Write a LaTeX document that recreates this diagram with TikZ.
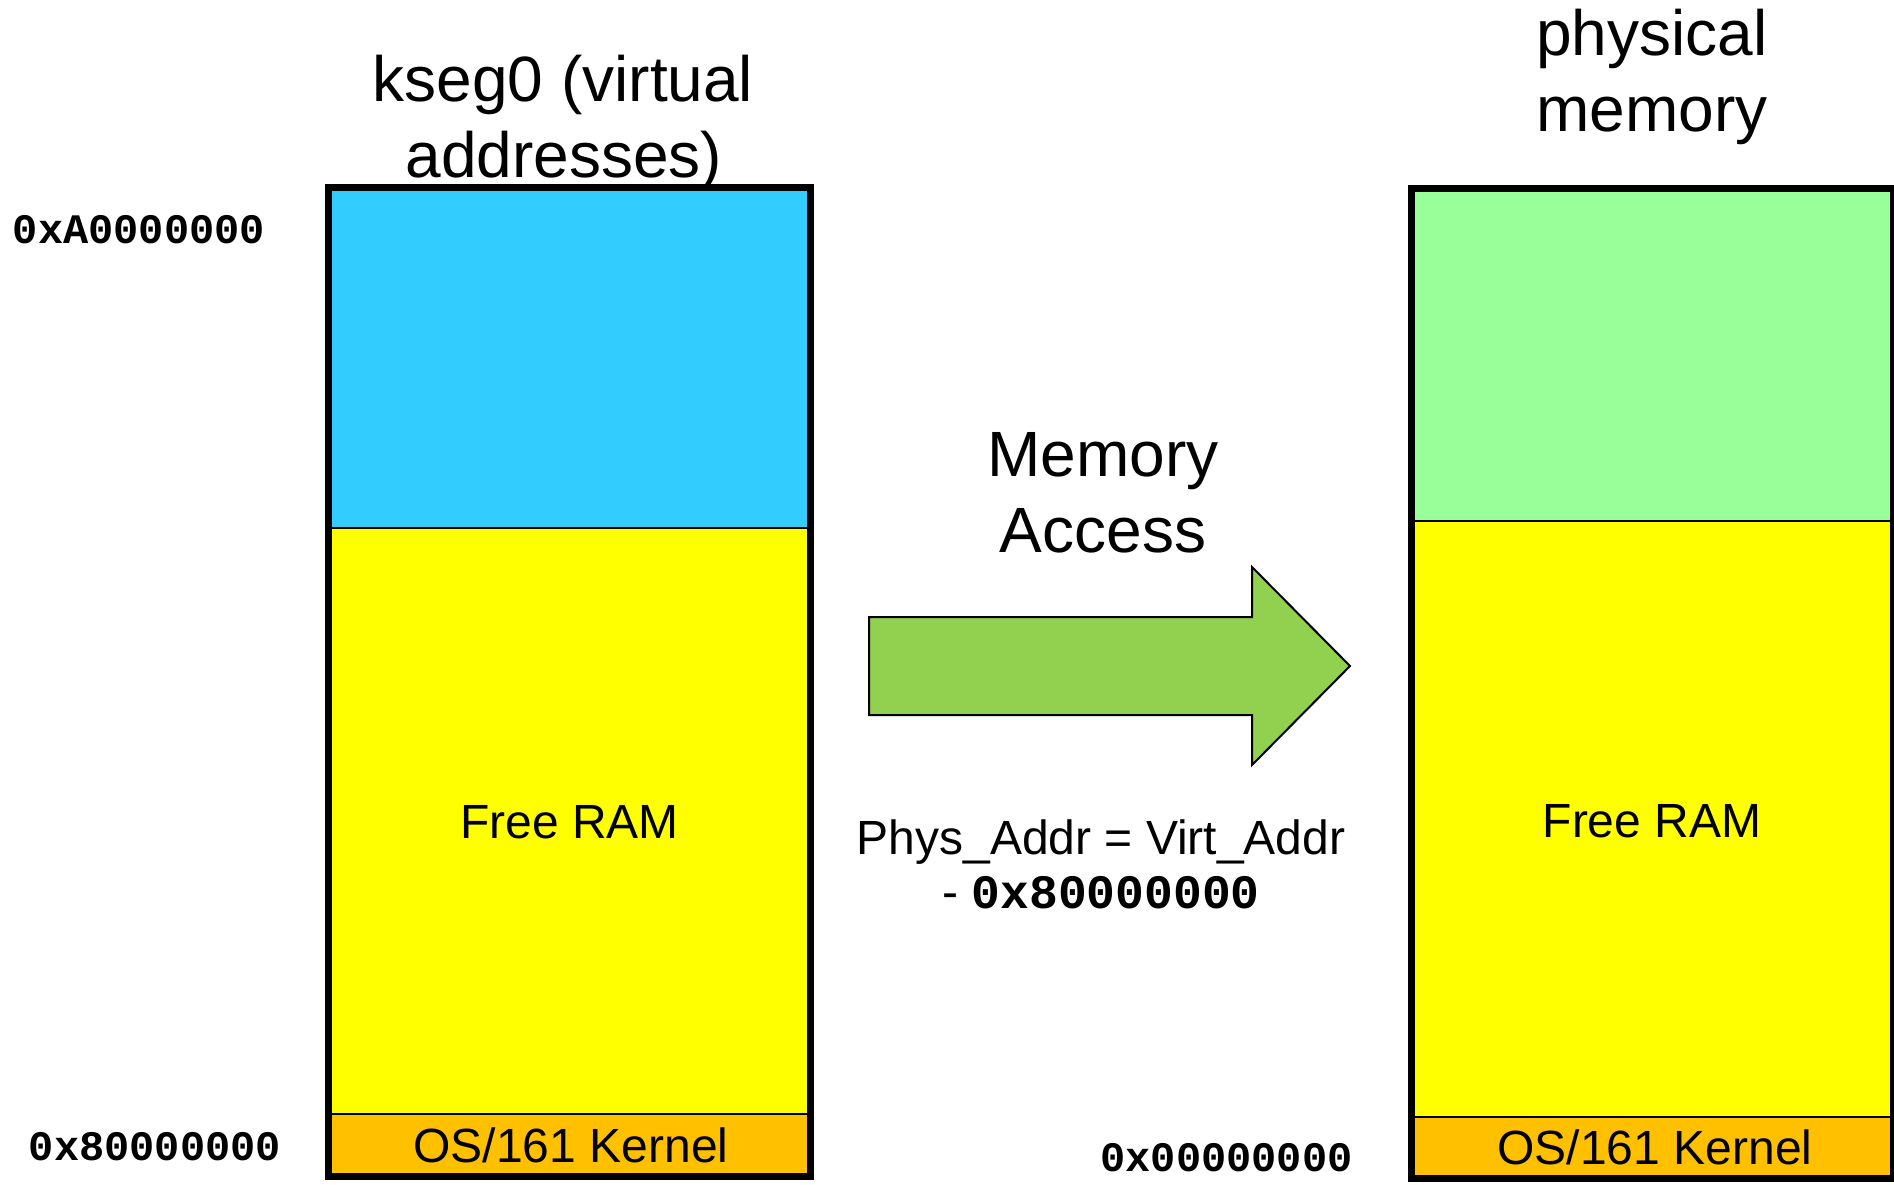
\documentclass[tikz,border=0pt]{standalone}
\usepackage{fontspec}
\setmainfont{Liberation Sans}
\newfontfamily\hexfont{Liberation Mono}
\definecolor{segblue}{HTML}{33CCFF}
\definecolor{ramyellow}{HTML}{FFFF00}
\definecolor{kernelorange}{HTML}{FFC000}
\definecolor{physgreen}{HTML}{99FF99}
\definecolor{arrowgreen}{HTML}{92D050}
\begin{document}
\begin{tikzpicture}[x=0.5pt,y=-0.5pt,
  region/.style={draw=black,line width=0.75pt},
  frame/.style={draw=black,line width=3.5pt},
  title/.style={font=\fontsize{32}{38}\selectfont,inner sep=0pt,anchor=base},
  body/.style={font=\fontsize{24}{28}\selectfont,inner sep=0pt,anchor=base},
  hexlabel/.style={font=\hexfont\bfseries\fontsize{21}{25}\selectfont,inner sep=0pt,anchor=base west}]
\useasboundingbox (0,0) rectangle (1894,1184);

% kseg0 column
\path[region,fill=segblue] (328.5,187.5) rectangle (810.5,528);
\path[region,fill=ramyellow] (328.5,528) rectangle (810.5,1114);
\path[region,fill=kernelorange] (328.5,1114) rectangle (810.5,1176.5);
\path[frame] (328.5,187.5) rectangle (810.5,1176.5);

% physical memory column
\path[region,fill=physgreen] (1411,188) rectangle (1893,521);
\path[region,fill=ramyellow] (1411,521) rectangle (1893,1117);
\path[region,fill=kernelorange] (1411,1117) rectangle (1893,1178.5);
\path[frame] (1411,188) rectangle (1893,1178.5);

% block arrow
\path[draw=black,line width=1pt,fill=arrowgreen,line join=miter]
  (869,617) -- (1252,617) -- (1252,567) -- (1350,666) -- (1252,765)
  -- (1252,715) -- (869,715) -- cycle;

% headings
\node[title] (vtitle1) at (563,101) {kseg0 (virtual};
\node[title] (vtitle2) at (564,177) {addresses)};
\node[title] (ptitle1) at (1652,55) {physical};
\node[title] (ptitle2) at (1652,131) {memory};
\node[title] (acc1) at (1103,476) {Memory};
\node[title] (acc2) at (1103,552) {Access};

% formula
\node[body] (form1) at (1101,854) {Phys\_Addr = Virt\_Addr};
\node[body] (form2) at (1101,908) {- {\hexfont\bfseries 0x80000000}};

% region labels
\node[body] (vfree) at (569.5,838) {Free RAM};
\node[body] (pfree) at (1652,837) {Free RAM};
\node[body] (vkern) at (571,1162) {OS/161 Kernel};
\node[body] (pkern) at (1655,1164) {OS/161 Kernel};

% addresses
\node[hexlabel] (vtop) at (12.5,243) {0xA0000000};
\node[hexlabel] (vbase) at (28.5,1160) {0x80000000};
\node[hexlabel] (pbase) at (1100,1171) {0x00000000};
\end{tikzpicture}
\end{document}
